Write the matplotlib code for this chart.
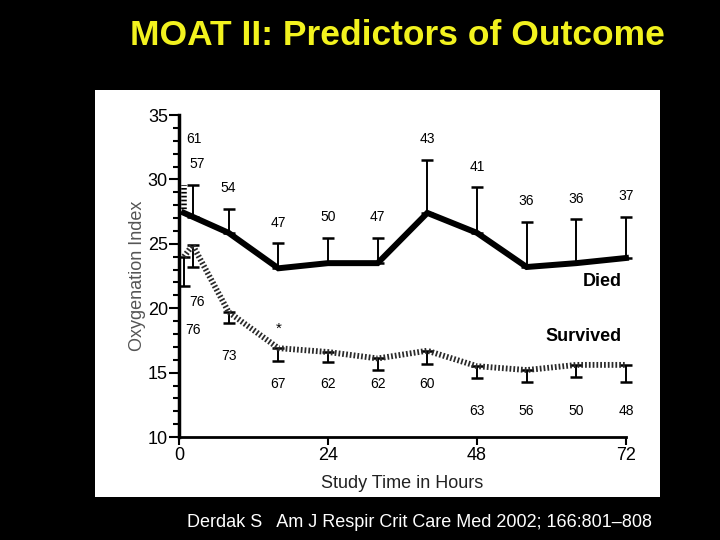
import matplotlib
matplotlib.use("Agg")
import matplotlib.pyplot as plt
from matplotlib.patches import Rectangle

plt.rcParams['font.family'] = ['Liberation Sans', 'DejaVu Sans']

# ---- data ----
hours = [0.8, 2.2, 8, 16, 24, 32, 40, 48, 56, 64, 72]
died_mean = [27.4, 27.1, 25.85, 23.1, 23.5, 23.5, 27.4, 25.85, 23.2, 23.5, 23.9]
died_upper = [29.6, 29.6, 27.7, 25.05, 25.45, 25.45, 31.5, 29.4, 26.7, 26.9, 27.1]
died_n = ["61", "57", "54", "47", "50", "47", "43", "41", "36", "36", "37"]

surv_mean = [24.0, 24.9, 19.7, 16.9, 16.6, 16.1, 16.7, 15.5, 15.2, 15.6, 15.6]
surv_lower = [21.7, 23.2, 18.85, 15.9, 15.8, 15.2, 15.65, 14.6, 14.3, 14.65, 14.3]
surv_n = ["76", "76", "73", "67", "62", "62", "60", "63", "56", "50", "48"]

x_ticks = [0, 24, 48, 72]
y_ticks = [10, 15, 20, 25, 30, 35]

title = "MOAT II: Predictors of Outcome"
citation = "Derdak S   Am J Respir Crit Care Med 2002; 166:801\u2013808"

# ---- figure ----
fig = plt.figure(figsize=(7.2, 5.4), dpi=100, facecolor="black")
fig.patches.append(Rectangle((0.132, 0.0796), 0.7847, 0.7537, transform=fig.transFigure,
                             facecolor="white", edgecolor="none", zorder=-5))
fig.text(0.552, 0.935, title, color="#F2F21E", fontsize=25.5, fontweight="bold",
         ha="center", va="center")
fig.text(0.583, 0.033, citation, color="white", fontsize=13, ha="center", va="center")

ax = fig.add_axes([0.2486, 0.1907, 0.6208, 0.5963])
ax.set_zorder(2)
ax.set_facecolor("none")
ax.set_xlim(0, 72)
ax.set_ylim(10, 35)
for s in ("top", "right"):
    ax.spines[s].set_visible(False)
ax.spines["left"].set_linewidth(2.5)
ax.spines["bottom"].set_linewidth(2)
ax.set_xticks(x_ticks)
ax.set_yticks(y_ticks)
ax.set_yticks([v for v in range(10, 36)], minor=True)
ax.tick_params(axis="y", which="major", length=7, width=1.5, labelsize=13, pad=1, direction="out")
ax.tick_params(axis="y", which="minor", length=4, width=1.5, direction="out")
ax.tick_params(axis="x", which="major", length=6, width=1.5, labelsize=13, pad=1, direction="out")
ax.set_ylabel("Oxygenation Index", fontsize=13, color="#555555", labelpad=1)
ax.set_xlabel("Study Time in Hours", fontsize=13, color="#222222", labelpad=8)

# Died: thick solid line with upward error bars
ax.plot(hours, died_mean, color="black", lw=4.3, solid_joinstyle="miter", clip_on=False, zorder=4)
d_err = [0] * len(hours), [u - m for u, m in zip(died_upper, died_mean)]
ax.errorbar(hours[1:], died_mean[1:], yerr=(d_err[0][1:], d_err[1][1:]), fmt="none",
            ecolor="black", elinewidth=1.4, capsize=4.5, capthick=1.8, clip_on=False, zorder=3)
ax.plot([hours[0], hours[0]], [died_mean[0], died_upper[0]], color="black", lw=4,
        linestyle=(0, (0.3, 0.4)), clip_on=False, zorder=3)

# Survived: hatched line with downward error bars
ax.plot(hours, surv_mean, color="#2a2a2a", lw=4.2, linestyle=(0, (0.3, 0.35)),
        clip_on=False, zorder=4)
s_err = [m - l for m, l in zip(surv_mean, surv_lower)], [0] * len(hours)
ax.errorbar(hours, surv_mean, yerr=s_err, fmt="none", ecolor="black", elinewidth=1.4,
            capsize=4.5, capthick=1.8, clip_on=False, zorder=3)

# n labels
died_dx = [1.6, 0.8] + [0] * (len(hours) - 2)
for i, (t, u, n) in enumerate(zip(hours, died_upper, died_n)):
    y = u + (3.5 if i == 0 else 1.6)
    ax.text(t + died_dx[i], y, n, ha="center", va="center", fontsize=10)

surv_dx = [2.1, 0.1] + [0] * (len(hours) - 2)
surv_label_y = [20.5, 18.3, 16.3, 14.1, 14.1, 14.1, 14.1, 12.0, 12.0, 12.0, 12.0]
for i, (t, y, n) in enumerate(zip(hours, surv_label_y, surv_n)):
    ax.text(t + surv_dx[i], y, n, ha="center", va="center", fontsize=10)

ax.text(16, 18.4, "*", ha="center", va="center", fontsize=11)
ax.text(71.3, 22.1, "Died", ha="right", va="center", fontsize=13, fontweight="bold")
ax.text(71.3, 17.8, "Survived", ha="right", va="center", fontsize=13, fontweight="bold")

fig.savefig("out.png", dpi=100, facecolor="black")
